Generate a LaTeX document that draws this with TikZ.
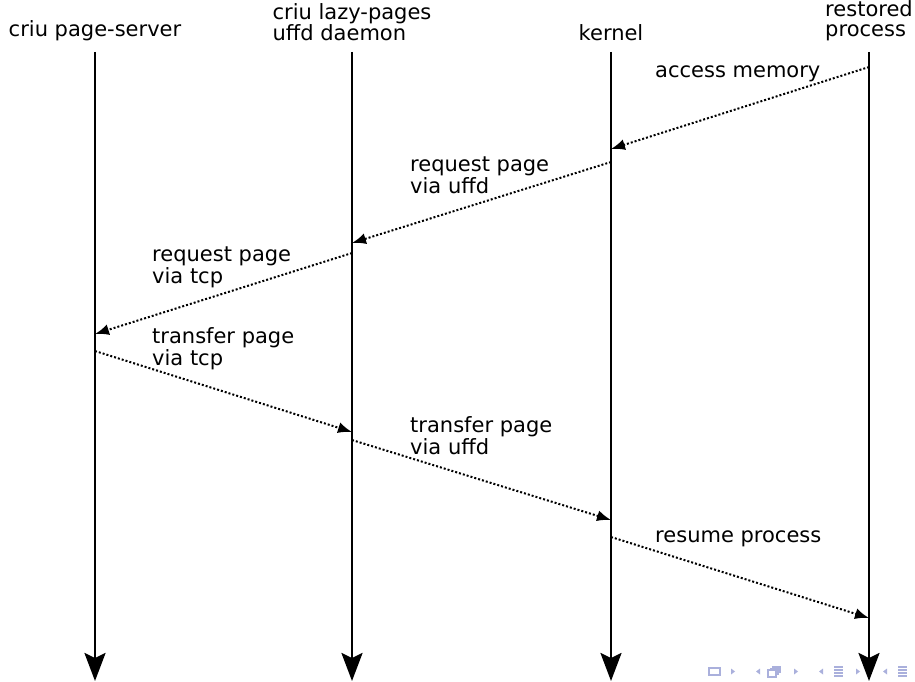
\documentclass[tikz,border=0pt]{standalone}
\usepackage{fontspec}
\setmainfont{DejaVu Sans}
\usetikzlibrary{arrows.meta}
\definecolor{navc}{RGB}{170,176,220}
\begin{document}
\begin{tikzpicture}[x=1pt,y=-1pt,
  lifeline/.style={line width=2.5pt,-{Stealth[length=28pt,width=21pt,inset=5pt]}},
  msg/.style={line width=2pt,dash pattern=on 2pt off 2pt,-{Latex[length=14pt,width=11pt]}},
  head/.style={font=\fontsize{21}{20}\selectfont,inner sep=0pt,anchor=south,align=left},
  lbl/.style={font=\fontsize{21}{20}\selectfont,inner sep=0pt,anchor=base west,align=left},
  navline/.style={draw=navc,line width=1.3pt},
  navtri/.style={fill=navc}]
\useasboundingbox (0,0) rectangle (915,682);
% headers
\node[head] (hA) at (95,41) {criu page-server};
\node[head] (hB) at (352,41) {criu lazy-pages\\uffd daemon};
\node[head] (hC) at (611,41) {kernel};
\node[head] (hD) at (869,41) {restored\\process};
% lifelines
\coordinate (tA) at (95,52);  \coordinate (bA) at (95,681);
\coordinate (tB) at (352,52); \coordinate (bB) at (352,681);
\coordinate (tC) at (611,52); \coordinate (bC) at (611,681);
\coordinate (tD) at (869,52); \coordinate (bD) at (869,681);
\draw[lifeline] (tA) -- (bA);
\draw[lifeline] (tB) -- (bB);
\draw[lifeline] (tC) -- (bC);
\draw[lifeline] (tD) -- (bD);
% message end points
\coordinate (m1s) at (869,67);  \coordinate (m1e) at (611,149);
\coordinate (m2s) at (611,162); \coordinate (m2e) at (352,243);
\coordinate (m3s) at (352,253); \coordinate (m3e) at (95,334);
\coordinate (m4s) at (95,351);  \coordinate (m4e) at (352,432);
\coordinate (m5s) at (352,440); \coordinate (m5e) at (611,520);
\coordinate (m6s) at (611,537); \coordinate (m6e) at (869,618);
\draw[msg] (m1s) -- (m1e);
\draw[msg] (m2s) -- (m2e);
\draw[msg] (m3s) -- (m3e);
\draw[msg] (m4s) -- (m4e);
\draw[msg] (m5s) -- (m5e);
\draw[msg] (m6s) -- (m6e);
% labels (base = baseline of last line)
\node[lbl] (l1) at (655,78) {access memory};
\node[lbl] (l2) at (410,193) {request page\\via uffd};
\node[lbl] (l3) at (152,283) {request page\\via tcp};
\node[lbl] (l4) at (152,365) {transfer page\\via tcp};
\node[lbl] (l5) at (410,454) {transfer page\\via uffd};
\node[lbl] (l6) at (655,542) {resume process};
% navigation symbols
\draw[navline] (709,668) rectangle (720,675);
\path[navtri] (731,668.5) -- (735,671.5) -- (731,674.5) -- cycle;
\path[navtri] (760,668.5) -- (756,671.5) -- (760,674.5) -- cycle;
\draw[navline] (768,670) rectangle (776,677);
\draw[navline] (770,668.5) -- (778,668.5) -- (778,675);
\draw[navline] (772,667) -- (780,667) -- (780,673);
\path[navtri] (794,668.5) -- (798,671.5) -- (794,674.5) -- cycle;
\path[navtri] (823,668.5) -- (819,671.5) -- (823,674.5) -- cycle;
\foreach \yy in {667,670,673,676} \draw[navline] (834,\yy) -- (843,\yy);
\path[navtri] (856,668.5) -- (860,671.5) -- (856,674.5) -- cycle;
\path[navtri] (887,668.5) -- (883,671.5) -- (887,674.5) -- cycle;
\foreach \yy in {667,670,673,676} \draw[navline] (898,\yy) -- (907,\yy);
\end{tikzpicture}
\end{document}
